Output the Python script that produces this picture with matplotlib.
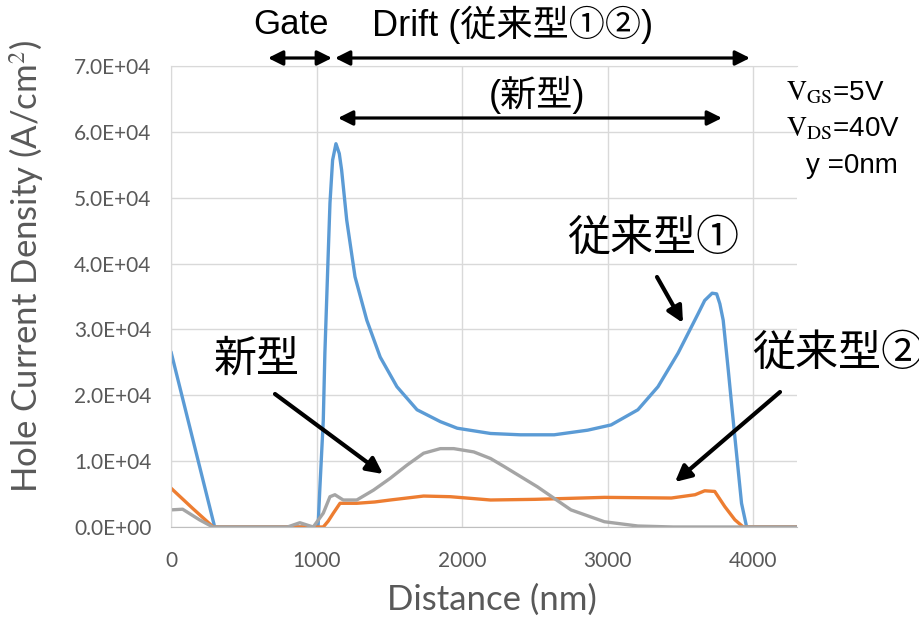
import matplotlib
matplotlib.use("Agg")
import matplotlib.pyplot as plt
from matplotlib.ticker import FuncFormatter, MultipleLocator

# ~~~ data (distance in nm, hole current density in A/cm2) ~~~
x_conv1 = [0, 300, 1000, 1010, 1023, 1046, 1057, 1080, 1092, 1110, 1133, 1156, 1172, 1207,
           1264, 1345, 1437, 1552, 1690, 1850, 1966, 2195, 2400, 2632, 2862, 3023, 3207,
           3345, 3483, 3621, 3666, 3717, 3748, 3770, 3793, 3828, 3850, 3873, 3919, 3954, 4300]
y_conv1 = [26600, 0, 0, 0, 6100, 16200, 26400, 41500, 49200, 55700, 58200, 56700, 54200, 46600,
           38000, 31400, 25800, 21300, 17800, 16000, 15000, 14200, 14000, 14000, 14700, 15500, 17800,
           21300, 26400, 32400, 34400, 35500, 35400, 33900, 31400, 23800, 18800, 13700, 3600, 0, 0]

x_conv2 = [0, 150, 290, 1000, 1046, 1080, 1115, 1161, 1276, 1400, 1506, 1735, 1919, 2195,
           2500, 2977, 3437, 3600, 3666, 3735, 3804, 3873, 3931, 4300]
y_conv2 = [5900, 2800, 0, 0, 0, 900, 2100, 3600, 3600, 3800, 4100, 4700, 4600, 4100,
           4200, 4500, 4400, 4900, 5500, 5400, 3100, 1100, 0, 0]

x_new = [0, 80, 195, 287, 800, 885, 977, 1046, 1092, 1126, 1183, 1276, 1391, 1506, 1621,
         1735, 1850, 1942, 2080, 2195, 2287, 2517, 2747, 2977, 3207, 3450, 4300]
y_new = [2600, 2700, 1100, 0, 0, 650, 0, 2100, 4600, 4900, 4100, 4100, 5600, 7400, 9400,
         11200, 11900, 11900, 11400, 10400, 9200, 6100, 2600, 800, 150, 0, 0]

x_ticks = [0, 1000, 2000, 3000, 4000]
y_max = 70000

W, H = 920, 618


def fp(px, py):
    # reference image pixel -> figure fraction
    return (px / W, 1 - py / H)


plt.rcParams['mathtext.fontset'] = 'stix'

fig = plt.figure(figsize=(W / 100, H / 100), dpi=100)
ax = fig.add_axes([171 / W, 1 - 527 / H, (797 - 171) / W, (527 - 66) / H])

ax.plot(x_conv1, y_conv1, color='#5B9BD5', lw=2.4, solid_capstyle='round', solid_joinstyle='round')
ax.plot(x_conv2, y_conv2, color='#ED7D31', lw=2.4, solid_capstyle='round', solid_joinstyle='round')
ax.plot(x_new, y_new, color='#A5A5A5', lw=2.4, solid_capstyle='round', solid_joinstyle='round')

ax.set_xlim(0, 4300)
ax.set_ylim(0, y_max)
ax.set_xticks(x_ticks)
ax.yaxis.set_major_locator(MultipleLocator(10000))
ax.yaxis.set_major_formatter(FuncFormatter(lambda v, p: f"{v:.1E}"))
ax.grid(True, color='#D9D9D9', lw=1)
ax.set_axisbelow(True)
for s in ['left', 'top']:
    ax.spines[s].set_color('#D9D9D9')
ax.spines['right'].set_visible(False)
ax.spines['bottom'].set_color('#BFBFBF')
ax.tick_params(length=0, labelsize=15, labelcolor='#595959')
ax.tick_params(axis='x', pad=17)
ax.tick_params(axis='y', pad=14)
for lab in ax.get_xticklabels() + ax.get_yticklabels():
    lab.set_family('Lato')

ax.set_xlabel('Distance (nm)', fontsize=25, color='#595959', family='Lato')
ax.set_ylabel('Hole Current Density (A/cm$^2$)', fontsize=25, color='#595959', family='Lato')
ax.xaxis.set_label_coords(0.513, -0.122)
ax.yaxis.set_label_coords(-0.20, 0.566)

jp = ['Liberation Sans', 'Noto Sans CJK JP']

# region labels and arrows above the plot
fig.text(*fp(291, 25), 'Gate', fontsize=25, family=jp, ha='center', va='center')
fig.text(*fp(372, 25), 'Drift (従来型①②)', fontsize=26, family=jp, ha='left', va='center')
fig.text(*fp(537, 95), '(新型)', fontsize=26, family=jp, ha='center', va='center')

arrow2 = dict(arrowstyle='<|-|>', lw=2.3, color='black', mutation_scale=22, shrinkA=0, shrinkB=0)
ax.annotate('', xy=fp(268, 58), xytext=fp(332, 58), xycoords='figure fraction', arrowprops=arrow2)
ax.annotate('', xy=fp(335, 58), xytext=fp(750, 58), xycoords='figure fraction', arrowprops=arrow2)
ax.annotate('', xy=fp(338, 118), xytext=fp(722, 118), xycoords='figure fraction', arrowprops=arrow2)

# series labels
arrow1 = dict(arrowstyle='-|>', lw=3, color='black', mutation_scale=24, shrinkA=0, shrinkB=0)
fig.text(*fp(257, 361), '新型', fontsize=31, family=jp, ha='center', va='center')
ax.annotate('', xy=fp(383, 474), xytext=fp(275, 394), xycoords='figure fraction', arrowprops=arrow1)
fig.text(*fp(567, 240), '従来型①', fontsize=31, family=jp, ha='left', va='center')
ax.annotate('', xy=fp(683, 323), xytext=fp(657, 277), xycoords='figure fraction', arrowprops=arrow1)
fig.text(*fp(752, 355), '従来型②', fontsize=31, family=jp, ha='left', va='center')
ax.annotate('', xy=fp(675, 482), xytext=fp(780, 392), xycoords='figure fraction', arrowprops=arrow1)

# bias conditions
fig.text(*fp(786, 93), r'$\mathrm{V_{GS}}$=5V', fontsize=20, family='Liberation Sans', ha='left', va='center')
fig.text(*fp(786, 129), r'$\mathrm{V_{DS}}$=40V', fontsize=20, family='Liberation Sans', ha='left', va='center')
fig.text(*fp(806, 166), 'y =0nm', fontsize=20, family='Liberation Sans', ha='left', va='center')

fig.savefig('out.png', dpi=100)
